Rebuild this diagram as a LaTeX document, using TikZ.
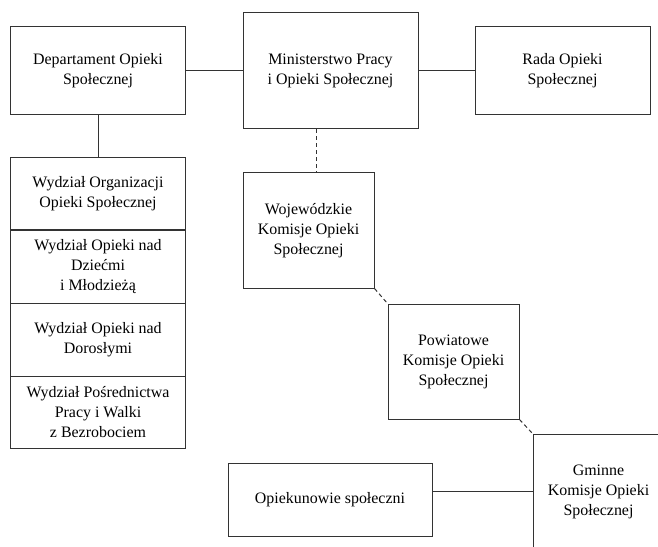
\documentclass[tikz,border=0pt]{standalone}
\usepackage{fontspec}
\setmainfont{Liberation Serif}
\usetikzlibrary{positioning}
\tikzset{
  unit/.style={draw=black!80, line width=1bp, align=center, inner sep=2bp,
    font=\fontsize{16}{20}\selectfont},
  link/.style={draw=black!80, line width=1bp},
  dlink/.style={link, dash pattern=on 4bp off 3bp}
}

\begin{document}
\begin{tikzpicture}[x=1bp, y=-1bp]
        \useasboundingbox (0,0) rectangle (658,547);
        \clip (0,0) rectangle (658,547);

        % Top row
        \node[unit, minimum width=174bp, minimum height=88bp] (dep) at (98,71) {Departament Opieki\\Społecznej};
        \node[unit, minimum width=175bp, minimum height=116bp] (min) at (330.5,71) {Ministerstwo Pracy\\i Opieki Społecznej};
        \node[unit, minimum width=175bp, minimum height=88bp] (rada) at (562.5,71) {Rada Opieki\\Społecznej};
        \draw[link] (dep.east) -- (min.west);
        \draw[link] (min.east) -- (rada.west);

        % Departments (stacked)
        \node[unit, minimum width=174bp, minimum height=72bp] (org) at (98,194) {Wydział Organizacji\\Opieki Społecznej};
        \node[unit, minimum width=174bp, minimum height=73bp] (dzieci) at (98,266.5) {Wydział Opieki nad\\Dziećmi\\i Młodzieżą};
        \node[unit, minimum width=174bp, minimum height=73bp] (dor) at (98,339.5) {Wydział Opieki nad\\Dorosłymi};
        \node[unit, minimum width=174bp, minimum height=72bp] (bezr) at (98,412) {Wydział Pośrednictwa\\Pracy i Walki\\z Bezrobociem};
        \draw[link] (dep.south) -- (org.north);

        % Commissions (dashed chain)
        \node[unit, minimum width=131bp, minimum height=115bp] (woj) at (308.5,230.5) {Wojewódzkie\\Komisje Opieki\\Społecznej};
        \node[unit, minimum width=131bp, minimum height=115bp] (pow) at (453.5,361.5) {Powiatowe\\Komisje Opieki\\Społecznej};
        \node[unit, minimum width=131bp, minimum height=115bp] (gm) at (598.5,491.5) {Gminne\\Komisje Opieki\\Społecznej};
        \path (woj.north) ++(7.5,0) coordinate (wtop);
        \draw[dlink] (wtop |- min.south) -- (wtop);
        \draw[dlink] (woj.south east) -- (pow.north west);
        \draw[dlink] (pow.south east) -- (gm.north west);

        % Carers
        \node[unit, minimum width=204bp, minimum height=73bp] (opiek) at (330,499.5) {Opiekunowie społeczni};
        \draw[link] (opiek.east |- gm.west) -- (gm.west);
    \end{tikzpicture}
\end{document}
